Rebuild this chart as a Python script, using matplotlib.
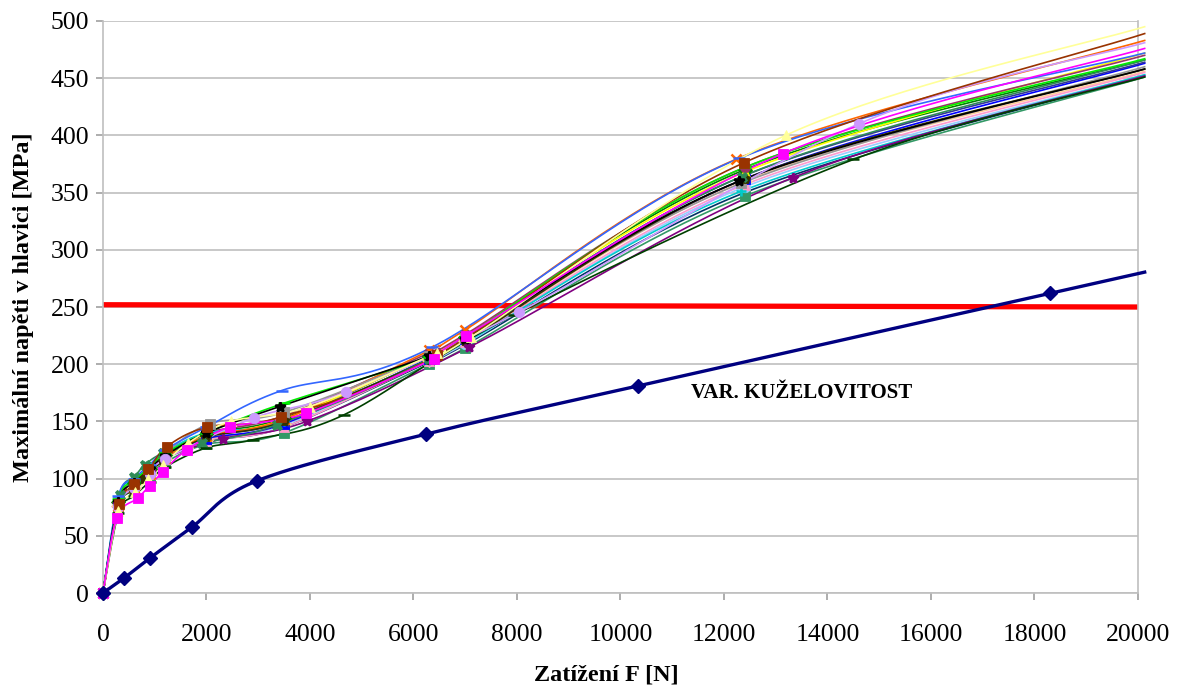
import numpy as np
import matplotlib
matplotlib.use("Agg")
import matplotlib.pyplot as plt

# ---- data: load F [N] vs. maximal stress in the head [MPa] ----
F_kuzel = [0, 405, 906, 1716, 2970, 6249, 10338, 18303, 20130]
S_kuzel = [0, 13, 30.5, 57.5, 98, 139, 181, 262, 280.5]

F_steps = [0, 300, 600, 900, 1200, 2000, 3500, 6300, 7000, 12400, 20130]

F_magenta = [0, 270, 675, 906, 1157, 1620, 2450, 3915, 6400, 7020, 13133, 20130]
S_magenta = [0, 66, 83, 94, 106, 125, 145, 157, 205, 225, 384, 476]

F_paleyel = [0, 300, 620, 880, 1157, 1640, 2469, 3992, 6450, 7117, 13190, 20130]
S_paleyel = [0, 72, 88, 100, 112, 131, 150, 163, 210, 224, 400, 495]

F_brown = [0, 310, 600, 880, 1234, 2006, 3450, 6461, 12381, 20130]
S_brown = [0, 78, 95, 108, 128, 145, 154, 208, 376, 489]

F_lavender = [0, 300, 600, 900, 1200, 2912, 4706, 8042, 14600, 20130]
S_lavender = [0, 75, 92, 104, 117, 153, 176, 245.6, 410, 481]

F_dkgreen = [0, 300, 600, 900, 1200, 2000, 2893, 4667, 7946, 14503, 20130]
S_dkgreen = [0, 70, 85, 97, 110, 127, 134, 156, 243, 379, 451]

F_black = [0, 300, 600, 900, 1200, 2000, 3414, 6300, 7000, 12300, 20130]
S_black = [0, 80, 96, 108, 120, 140, 163, 207, 222, 360, 458]

F_ltblue = [0, 300, 600, 900, 1200, 2000, 3452, 6365, 12300, 20130]
S_ltblue = [0, 85, 100, 112, 125, 145, 177, 215, 380, 472]

S_lime = [0, 82, 98, 110, 122, 140, 166, 206, 224, 372, 467]

F_greenx = [0, 330, 600, 810, 1157, 1910, 3356, 6306, 12343, 20130]
S_greenx = [0, 86, 101, 112, 122, 131, 147, 205, 364, 466]

F_purple = [0, 300, 600, 900, 1200, 2314, 3934, 7078, 13327, 20130]
S_purple = [0, 78, 94, 106, 118, 135, 150, 215, 363, 452]

F_olive = [0, 290, 580, 790, 1157, 2000, 3500, 6300, 7000, 12400, 20130]
S_olive = [0, 75, 90, 100, 115, 136, 150, 204, 220, 362, 458]

F_grey = [0, 300, 600, 900, 1200, 2060, 3500, 6300, 7000, 12324, 20130]
S_grey = [0, 80, 96, 108, 122, 148, 158, 207, 223, 358, 460]

F_orange = [0, 300, 600, 900, 1200, 2000, 3500, 6300, 7000, 12227, 20130]
S_orange = [0, 76, 92, 104, 118, 137, 152, 212, 230, 379, 483]

F_cyan = [0, 300, 600, 900, 1200, 2000, 3500, 6300, 7000, 12324, 20130]
S_cyan = [0, 84, 99, 110, 123, 140, 150, 204, 219, 351, 453]

S_yellow = [0, 78, 94, 106, 119, 137, 152, 207, 225, 368, 472]
S_pink = [0, 77, 92, 104, 117, 133, 145, 203, 219, 357, 455]
S_slate = [0, 79, 95, 107, 120, 137, 150, 208, 223, 365, 464]
S_blue = [0, 78, 94, 106, 119, 135, 148, 205, 222, 362, 463]
S_peach = [0, 76, 92, 104, 117, 134, 148, 204, 220, 360, 456]
S_skyblue = [0, 77, 93, 105, 118, 134, 147, 203, 218, 355, 453]
S_teal = [0, 79, 95, 107, 119, 133, 145, 202, 217, 350, 452]
S_plum = [0, 80, 97, 109, 121, 140, 155, 210, 226, 372, 470]
S_green = [0, 80, 96, 108, 121, 139, 153, 207, 224, 370, 466]
S_seagreen = [0, 75, 90, 102, 114, 130, 140, 200, 214, 347, 451]

F_limit = [0, 20000]
S_limit = [252, 250]

x_ticks = list(range(0, 20001, 2000))
y_ticks = list(range(0, 501, 50))

# (F, S, colour, marker) for the family of variants
variants = [
    (F_steps, S_teal, "#003366", "+"),
    (F_steps, S_seagreen, "#339966", "s"),
    (F_steps, S_skyblue, "#99CCFF", "o"),
    (F_steps, S_peach, "#FFCC99", "D"),
    (F_steps, S_pink, "#FF99CC", "^"),
    (F_steps, S_blue, "#0000FF", "s"),
    (F_steps, S_slate, "#333399", "x"),
    (F_steps, S_green, "#008000", "D"),
    (F_steps, S_yellow, "#FFFF00", "^"),
    (F_steps, S_plum, "#993366", "o"),
    (F_cyan, S_cyan, "#00CCCC", "+"),
    (F_orange, S_orange, "#FF6600", "x"),
    (F_grey, S_grey, "#969696", "s"),
    (F_olive, S_olive, "#333300", "p"),
    (F_purple, S_purple, "#800080", "*"),
    (F_greenx, S_greenx, "#2E8B57", "X"),
    (F_steps, S_lime, "#00EE00", "_"),
    (F_ltblue, S_ltblue, "#3366FF", "_"),
    (F_black, S_black, "#000000", "*"),
    (F_dkgreen, S_dkgreen, "#004000", "_"),
    (F_lavender, S_lavender, "#CC99FF", "o"),
    (F_brown, S_brown, "#993300", "s"),
    (F_paleyel, S_paleyel, "#FFFF99", "^"),
    (F_magenta, S_magenta, "#FF00FF", "s"),
]


def smooth(xs, ys, n=40):
    """Bezier smoothing through every point (tangent = neighbour chord / 6)."""
    P = np.column_stack([xs, ys]).astype(float)
    t = np.linspace(0, 1, n)[:, None]
    out = []
    for i in range(len(P) - 1):
        p0 = P[i - 1] if i > 0 else P[i]
        p1, p2 = P[i], P[i + 1]
        p3 = P[i + 2] if i + 2 < len(P) else P[i + 1]
        c1 = p1 + (p2 - p0) / 6.0
        c2 = p2 - (p3 - p1) / 6.0
        seg = ((1 - t) ** 3) * p1 + 3 * ((1 - t) ** 2) * t * c1 \
            + 3 * (1 - t) * t ** 2 * c2 + t ** 3 * p2
        out.append(seg if i == 0 else seg[1:])
    seg = np.vstack(out)
    return seg[:, 0], seg[:, 1]


plt.rcParams["font.family"] = ["Liberation Serif", "DejaVu Serif"]

fig = plt.figure(figsize=(11.78, 6.88), dpi=100)
ax = fig.add_axes([0.0874, 0.138, 0.8786, 0.8315])

ax.set_xlim(0, 20000)
ax.set_ylim(0, 500)

# limit stress line
ax.plot(F_limit, S_limit, color="#FF0000", lw=3.8, zorder=2, solid_capstyle="butt")

for k, (F, S, col, mk) in enumerate(variants):
    xs, ys = smooth(F, S)
    ax.plot(xs, ys, color=col, lw=1.2, zorder=3 + k * 0.01, clip_on=False)
    thin = mk in ("+", "x", "*", "_")
    ax.plot(F[:-1], S[:-1], ls="none", marker=mk, ms=7.5 if mk != "_" else 8,
            mfc=col, mec=col, mew=1.8 if thin else 0.6,
            zorder=4 + k * 0.01, clip_on=False)

# conicity variant
xs, ys = smooth(F_kuzel, S_kuzel)
ax.plot(xs, ys, color="#000080", lw=2.4, zorder=5, clip_on=False)
ax.plot(F_kuzel[:-1], S_kuzel[:-1], ls="none", marker="D", ms=7.5,
        color="#000080", zorder=5, clip_on=False)

ax.text(11360, 175, "VAR. KUŽELOVITOST", fontsize=15, fontweight="bold",
        ha="left", va="center", zorder=6)

# axes styling
ax.set_xticks(x_ticks)
ax.set_yticks(y_ticks)
ax.yaxis.grid(True, color="#BFBFBF", lw=1.2)
ax.set_axisbelow(True)
for side in ("left", "bottom", "right"):
    ax.spines[side].set_color("#BFBFBF")
    ax.spines[side].set_linewidth(1.2)
ax.spines["top"].set_visible(False)
ax.tick_params(axis="both", colors="#A0A0A0", length=5, width=1.2,
               labelsize=18.5, labelcolor="black")
ax.tick_params(axis="x", pad=17)
ax.tick_params(axis="y", pad=5)

ax.set_xlabel("Zatížení F [N]", fontsize=17.5, fontweight="bold")
ax.xaxis.set_label_coords(0.486, -0.143)
ax.xaxis.label.set_va("center")
ax.set_ylabel("Maximální napěti v hlavici [MPa]", fontsize=17.5,
              fontweight="bold", labelpad=12)

fig.savefig("out.png", dpi=100)
